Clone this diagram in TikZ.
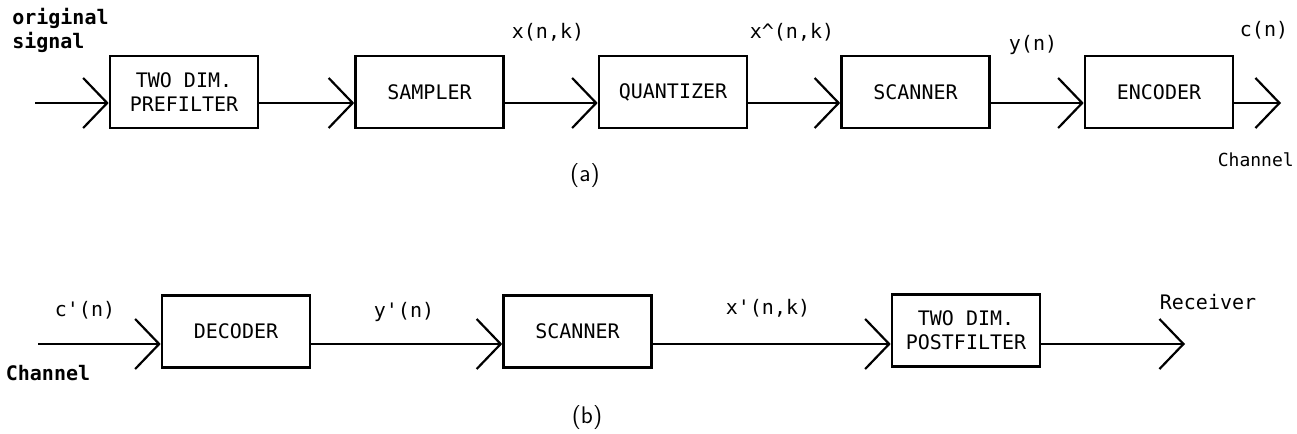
\documentclass[tikz,border=0pt]{standalone}
\usepackage{fontspec}
\setmonofont{DejaVu Sans Mono}
\usetikzlibrary{arrows.meta}

\begin{document}
\begin{tikzpicture}
  [x=0.5pt,y=-0.5pt,line width=1.3pt,font=\ttfamily,
   block/.style={draw,minimum width=74pt,minimum height=36pt,align=center,inner sep=0pt},
   sig/.style={-{Straight Barb[length=12pt,width=25pt,line width=1.1pt]}},
   lbl/.style={inner sep=0pt}]
  \useasboundingbox (0,0) rectangle (1297,434);

  % (a) transmitter
  \node[block] (pre)  at (184,92)    {TWO DIM.\\PREFILTER};
  \node[block] (samp) at (429.5,92)  {SAMPLER};
  \node[block] (quan) at (673,92)    {QUANTIZER};
  \node[block] (scan) at (915.5,92)  {SCANNER};
  \node[block] (enc)  at (1159,92)   {ENCODER};
  \coordinate (in1)  at (35,103);
  \coordinate (out1) at (1281,103);

  \draw[sig] (in1) -- (in1 -| pre.west);
  \foreach \from/\to in {pre/samp, samp/quan, quan/scan, scan/enc}
    \draw[sig] (\from.east |- in1) -- (\to.west |- in1);
  \draw[sig] (enc.east |- in1) -- (out1);

  \node[lbl,anchor=west,align=left,font=\ttfamily\bfseries] (orig) at (11,30) {original\\signal};
  \node[lbl] (xnk)  at (548,32)  {x(n,k)};
  \node[lbl] (xhat) at (792,32)  {x\textasciicircum(n,k)};
  \node[lbl] (yn)   at (1033,45) {y(n)};
  \node[lbl] (cn)   at (1264,30) {c(n)};
  \node[lbl,anchor=east,font=\ttfamily\small] (ch1) at (1295,160) {Channel};
  \node[lbl,font=\sffamily\large] (capa) at (585,176) {(a)};

  % (b) receiver
  \node[block] (dec)   at (236,331.5)   {DECODER};
  \node[block] (scan2) at (577.5,331.5) {SCANNER};
  \node[block] (post)  at (966,330.5)   {TWO DIM.\\POSTFILTER};
  \coordinate (in2)  at (38,344);
  \coordinate (out2) at (1185,344);

  \draw[sig] (in2) -- (in2 -| dec.west);
  \foreach \from/\to in {dec/scan2, scan2/post}
    \draw[sig] (\from.east |- in2) -- (\to.west |- in2);
  \draw[sig] (post.east |- in2) -- (out2);

  \node[lbl] (cpn)  at (85,310)   {c'(n)};
  \node[lbl,font=\ttfamily\bfseries] (ch2) at (48,373) {Channel};
  \node[lbl] (ypn)  at (404,312)  {y'(n)};
  \node[lbl] (xpnk) at (768,308)  {x'(n,k)};
  \node[lbl] (rec)  at (1208,302) {Receiver};
  \node[lbl,font=\sffamily\large] (capb) at (587,418) {(b)};

\end{tikzpicture}
\end{document}
